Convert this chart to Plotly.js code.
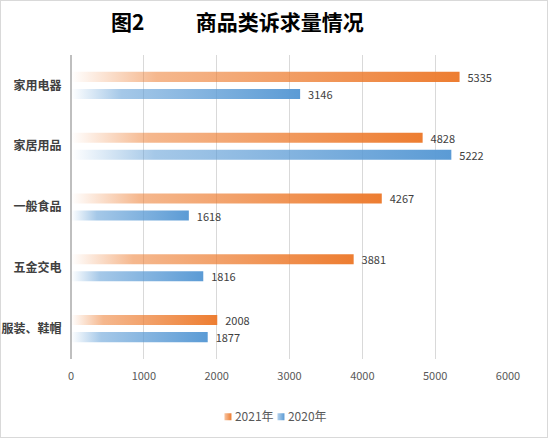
<!DOCTYPE html>
<html>
<head>
<meta charset="utf-8">
<script src="https://cdn.plot.ly/plotly-3.0.1.min.js"></script>
<style>
  html, body { margin: 0; padding: 0; background: #fff; }
  #chart { width: 546px; height: 436px; border: 1px solid #d9d9d9; }
</style>
</head>
<body>
<div id="chart"></div>
<script>
/* ── data ─────────────────────────────────────────────── */
const categories = ["家用电器", "家居用品", "一般食品", "五金交电", "服装、鞋帽"];
const values2021 = [5335, 4828, 4267, 3881, 2008];
const values2020 = [3146, 5222, 1618, 1816, 1877];
const seriesNames = ["2021年", "2020年"];
const xTicks = [0, 1000, 2000, 3000, 4000, 5000, 6000];

/* ── colours ──────────────────────────────────────────── */
const colors = {
    orange : "#ED7D31",
    blue   : "#5B9BD5",
    grid   : "#D9D9D9",
    axis   : "#BFBFBF",
    label  : "#404040",
    tick   : "#595959"
};

const baseFont = "'Noto Sans CJK SC', 'Noto Sans', sans-serif";

function barTrace(name, values, color) {
    return {
        type: "bar",
        orientation: "h",
        name: name,
        y: categories,
        x: values,
        marker: { color: color },
        text: values.map(v => "\u00a0\u00a0" + v),
        textposition: "outside",
        constraintext: "none",
        textfont: { size: 11, color: colors.label },
        cliponaxis: false,
        hoverinfo: "x+name"
    };
}

const traces = [
    barTrace(seriesNames[0], values2021, colors.orange),
    barTrace(seriesNames[1], values2020, colors.blue)
];

const layout = {
    width: 546,
    height: 436,
    paper_bgcolor: "#fff",
    plot_bgcolor: "#fff",
    font: { family: baseFont, color: colors.tick, size: 11 },
    margin: { l: 70, r: 39, t: 54, b: 78, autoexpand: false },
    title: {
        text: "图2\u3000\u3000\u00a0\u00a0商品类诉求量情况",
        font: { family: baseFont, size: 21, color: "#000", weight: "bold" },
        xref: "container", x: 0.433, xanchor: "center",
        yref: "container", y: 0.95, yanchor: "middle"
    },
    barmode: "group",
    bargap: 0.44,
    bargroupgap: 0.41,
    xaxis: {
        range: [0, 6000],
        tickvals: xTicks,
        ticktext: xTicks.map(String),
        showgrid: true,
        gridcolor: colors.grid,
        gridwidth: 1,
        zeroline: true,
        zerolinecolor: colors.axis,
        zerolinewidth: 1.5,
        showline: false,
        automargin: false,
        ticks: "outside",
        ticklen: 7,
        tickcolor: "rgba(0,0,0,0)",
        tickfont: { size: 11, color: colors.tick },
        fixedrange: true
    },
    yaxis: {
        type: "category",
        autorange: "reversed",
        showgrid: false,
        zeroline: false,
        showline: false,
        automargin: false,
        ticks: "outside",
        ticklen: 6,
        tickcolor: "rgba(0,0,0,0)",
        tickfont: { size: 12, color: colors.label, weight: "bold" },
        fixedrange: true
    },
    showlegend: true,
    legend: {
        orientation: "h",
        x: 0.35, xanchor: "left",
        y: -0.19, yanchor: "middle",
        itemwidth: 30,
        entrywidth: 8,
        font: { size: 12, color: colors.tick },
        traceorder: "normal"
    }
};

/* ── gradient fill on bars (white → colour, like the source) ── */
function makeGradient(defs, id, col, stops) {
    if (defs.querySelector("#" + id)) return;
    const g = document.createElementNS("http://www.w3.org/2000/svg", "linearGradient");
    g.setAttribute("id", id);
    g.setAttribute("x1", "0"); g.setAttribute("y1", "0");
    g.setAttribute("x2", "1"); g.setAttribute("y2", "0");
    stops.forEach(([off, op]) => {
        const s = document.createElementNS("http://www.w3.org/2000/svg", "stop");
        s.setAttribute("offset", off);
        s.setAttribute("stop-color", col);
        s.setAttribute("stop-opacity", op);
        g.appendChild(s);
    });
    defs.appendChild(g);
}

function applyGradients(gd) {
    const svg = gd.querySelector(".main-svg");
    if (!svg) return;
    let defs = svg.querySelector("defs");
    if (!defs) {
        defs = document.createElementNS("http://www.w3.org/2000/svg", "defs");
        svg.insertBefore(defs, svg.firstChild);
    }
    const barStops = [[0, 0], [0.22, 0.55], [1, 1]];
    const keyStops = [[0, 0.45], [1, 1]];
    makeGradient(defs, "gradOrange", colors.orange, barStops);
    makeGradient(defs, "gradBlue", colors.blue, barStops);
    makeGradient(defs, "keyOrange", colors.orange, keyStops);
    makeGradient(defs, "keyBlue", colors.blue, keyStops);

    gd.querySelectorAll(".barlayer .trace").forEach((tr, i) => {
        const id = i === 0 ? "gradOrange" : "gradBlue";
        tr.querySelectorAll(".point path").forEach(p => {
            p.style.fill = "url(#" + id + ")";
        });
    });

    // compact legend keys: small square right next to the text
    gd.querySelectorAll(".legend .traces").forEach((tr, i) => {
        const id = i === 0 ? "keyOrange" : "keyBlue";
        tr.querySelectorAll(".legendpoints path").forEach(p => {
            p.setAttribute("d", "M3.5,3.5H-3.5V-3.5H3.5Z");
            p.setAttribute("transform", "translate(4,0)");
            p.style.fill = "url(#" + id + ")";
            p.style.stroke = "none";
        });
        const t = tr.querySelector(".legendtext");
        if (t) t.setAttribute("x", 11);
    });
}

const gd = document.getElementById("chart");
Plotly.newPlot(gd, traces, layout, { displayModeBar: false, staticPlot: true })
    .then(() => {
        applyGradients(gd);
        gd.on("plotly_afterplot", () => applyGradients(gd));
    });
</script>
</body>
</html>
